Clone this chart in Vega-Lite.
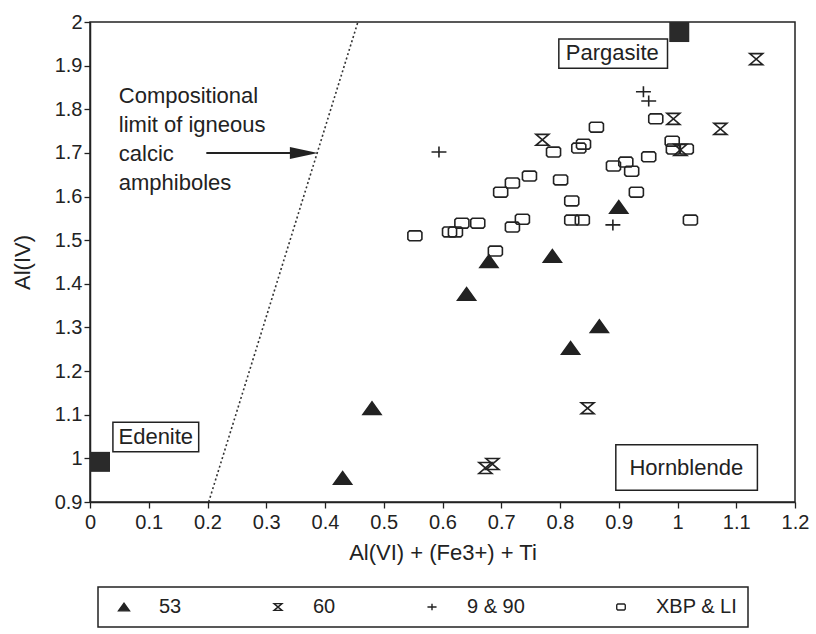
{
  "$schema": "https://vega.github.io/schema/vega-lite/v6.json",
  "autosize": "none",
  "width": 705,
  "height": 480,
  "padding": {"left": 90, "top": 22, "right": 21, "bottom": 132},
  "background": "white",
  "config": {
    "font": "Liberation Sans",
    "view": {"stroke": "#222", "strokeWidth": 1.5},
    "axis": {
      "grid": false,
      "domainColor": "#222",
      "domainWidth": 1.5,
      "tickColor": "#222",
      "tickWidth": 1.3,
      "tickSize": 6,
      "labelColor": "#222",
      "labelFontSize": 20,
      "labelFont": "Liberation Sans",
      "titleColor": "#222",
      "titleFontSize": 22,
      "titleFontWeight": "normal",
      "titleFont": "Liberation Sans",
      "labelFlush": false,
      "labelOverlap": false
    },
    "legend": {
      "orient": "none",
      "legendX": 8,
      "legendY": 565,
      "direction": "horizontal",
      "columns": 4,
      "gridAlign": "each",
      "columnPadding": 80,
      "padding": 10,
      "symbolOffset": 6,
      "strokeColor": "#222",
      "strokeWidth": 1.5,
      "labelFontSize": 20,
      "labelFont": "Liberation Sans",
      "labelColor": "#222",
      "labelOffset": 25,
      "symbolSize": 120,
      "symbolStrokeWidth": 1.4,
      "title": null
    }
  },
  "datasets": {
    "pts": [
      {"series": "53", "x": 0.430, "y": 0.955},
      {"series": "53", "x": 0.480, "y": 1.115},
      {"series": "53", "x": 0.641, "y": 1.377},
      {"series": "53", "x": 0.679, "y": 1.452},
      {"series": "53", "x": 0.787, "y": 1.464},
      {"series": "53", "x": 0.818, "y": 1.253},
      {"series": "53", "x": 0.867, "y": 1.303},
      {"series": "53", "x": 0.900, "y": 1.576},
      {"series": "60", "x": 0.673, "y": 0.978},
      {"series": "60", "x": 0.685, "y": 0.987},
      {"series": "60", "x": 0.847, "y": 1.115},
      {"series": "60", "x": 0.770, "y": 1.730},
      {"series": "60", "x": 0.993, "y": 1.778},
      {"series": "60", "x": 1.005, "y": 1.707},
      {"series": "60", "x": 1.073, "y": 1.755},
      {"series": "60", "x": 1.134, "y": 1.915},
      {"series": "9 & 90", "x": 0.594, "y": 1.702},
      {"series": "9 & 90", "x": 0.890, "y": 1.535},
      {"series": "9 & 90", "x": 0.942, "y": 1.840},
      {"series": "9 & 90", "x": 0.951, "y": 1.819},
      {"series": "XBP & LI", "x": 0.553, "y": 1.510},
      {"series": "XBP & LI", "x": 0.612, "y": 1.519},
      {"series": "XBP & LI", "x": 0.622, "y": 1.519},
      {"series": "XBP & LI", "x": 0.633, "y": 1.539},
      {"series": "XBP & LI", "x": 0.660, "y": 1.539},
      {"series": "XBP & LI", "x": 0.690, "y": 1.475},
      {"series": "XBP & LI", "x": 0.699, "y": 1.610},
      {"series": "XBP & LI", "x": 0.719, "y": 1.631},
      {"series": "XBP & LI", "x": 0.719, "y": 1.530},
      {"series": "XBP & LI", "x": 0.736, "y": 1.548},
      {"series": "XBP & LI", "x": 0.748, "y": 1.647},
      {"series": "XBP & LI", "x": 0.789, "y": 1.702},
      {"series": "XBP & LI", "x": 0.801, "y": 1.638},
      {"series": "XBP & LI", "x": 0.820, "y": 1.590},
      {"series": "XBP & LI", "x": 0.820, "y": 1.546},
      {"series": "XBP & LI", "x": 0.838, "y": 1.546},
      {"series": "XBP & LI", "x": 0.832, "y": 1.711},
      {"series": "XBP & LI", "x": 0.840, "y": 1.720},
      {"series": "XBP & LI", "x": 0.862, "y": 1.759},
      {"series": "XBP & LI", "x": 0.891, "y": 1.670},
      {"series": "XBP & LI", "x": 0.912, "y": 1.679},
      {"series": "XBP & LI", "x": 0.922, "y": 1.658},
      {"series": "XBP & LI", "x": 0.930, "y": 1.610},
      {"series": "XBP & LI", "x": 0.951, "y": 1.691},
      {"series": "XBP & LI", "x": 0.963, "y": 1.778},
      {"series": "XBP & LI", "x": 0.991, "y": 1.727},
      {"series": "XBP & LI", "x": 0.993, "y": 1.709},
      {"series": "XBP & LI", "x": 1.015, "y": 1.709},
      {"series": "XBP & LI", "x": 1.022, "y": 1.546}
    ],
    "endmembers": [
      {"name": "Pargasite", "x": 1.003, "y": 1.977},
      {"name": "Edenite", "x": 0.017, "y": 0.992}
    ],
    "boxes": [
      {"label": "Pargasite", "x1": 0.798, "x2": 0.983, "y1": 1.961, "y2": 1.894, "tx": 0.889, "ty": 1.929},
      {"label": "Edenite", "x1": 0.039, "x2": 0.185, "y1": 1.083, "y2": 1.015, "tx": 0.112, "ty": 1.049},
      {"label": "Hornblende", "x1": 0.895, "x2": 1.136, "y1": 1.031, "y2": 0.927, "tx": 1.015, "ty": 0.979}
    ],
    "limit": [
      {"x": 0.202, "y": 0.9},
      {"x": 0.456, "y": 2.0}
    ],
    "arrow": [
      {"x": 0.198, "x2": 0.37, "y": 1.70, "hx": 0.364}
    ],
    "note": [
      {"x": 0.049, "y": 1.853, "label": "Compositional\nlimit of igneous\ncalcic\namphiboles"}
    ]
  },
  "layer": [
    {
      "data": {"name": "limit"},
      "mark": {"type": "line", "color": "#333", "strokeWidth": 1.6, "strokeDash": [2, 2.5]},
      "encoding": {
        "x": {"field": "x", "type": "quantitative", "scale": {"domain": [0, 1.2], "nice": false, "zero": false},
          "axis": {
            "title": "Al(VI) + (Fe3+) + Ti",
            "values": [0, 0.05, 0.1, 0.15, 0.2, 0.25, 0.3, 0.35, 0.4, 0.45, 0.5, 0.55, 0.6, 0.65, 0.7, 0.75, 0.8, 0.85, 0.9, 0.95, 1, 1.05, 1.1, 1.15, 1.2],
            "labelExpr": "round(datum.value*100) % 10 == 0 ? format(datum.value, '.1~f') : ''",
            "labelPadding": 4,
            "titlePadding": 10
          }},
        "y": {"field": "y", "type": "quantitative", "scale": {"domain": [0.9, 2], "nice": false, "zero": false},
          "axis": {
            "title": "Al(IV)",
            "values": [0.9, 1, 1.1, 1.2, 1.3, 1.4, 1.5, 1.6, 1.7, 1.8, 1.9, 2],
            "labelExpr": "format(datum.value, '.1~f')",
            "labelPadding": 2,
            "titlePadding": 20
          }}
      }
    },
    {
      "data": {"name": "arrow"},
      "mark": {"type": "rule", "color": "#222", "strokeWidth": 2},
      "encoding": {
        "x": {"field": "x", "type": "quantitative"},
        "x2": {"field": "x2"},
        "y": {"field": "y", "type": "quantitative"}
      }
    },
    {
      "data": {"name": "arrow"},
      "mark": {"type": "point", "shape": "M-1,-0.43L1,0L-1,0.43Z", "size": 784, "filled": true, "color": "#222", "opacity": 1},
      "encoding": {
        "x": {"field": "hx", "type": "quantitative"},
        "y": {"field": "y", "type": "quantitative"}
      }
    },
    {
      "data": {"name": "note"},
      "mark": {"type": "text", "align": "left", "baseline": "top", "fontSize": 22, "lineHeight": 29, "lineBreak": "\n", "color": "#222", "font": "Liberation Sans"},
      "encoding": {
        "x": {"field": "x", "type": "quantitative"},
        "y": {"field": "y", "type": "quantitative"},
        "text": {"field": "label"}
      }
    },
    {
      "data": {"name": "boxes"},
      "mark": {"type": "rect", "fill": "white", "stroke": "#222", "strokeWidth": 1.5},
      "encoding": {
        "x": {"field": "x1", "type": "quantitative"},
        "x2": {"field": "x2"},
        "y": {"field": "y1", "type": "quantitative"},
        "y2": {"field": "y2"}
      }
    },
    {
      "data": {"name": "boxes"},
      "mark": {"type": "text", "align": "center", "baseline": "middle", "fontSize": 22, "color": "#222", "font": "Liberation Sans"},
      "encoding": {
        "x": {"field": "tx", "type": "quantitative"},
        "y": {"field": "ty", "type": "quantitative"},
        "text": {"field": "label"}
      }
    },
    {
      "data": {"name": "endmembers"},
      "mark": {"type": "point", "shape": "square", "size": 400, "filled": true, "color": "#2a2a2a", "opacity": 1},
      "encoding": {
        "x": {"field": "x", "type": "quantitative"},
        "y": {"field": "y", "type": "quantitative"}
      }
    },
    {
      "data": {"name": "pts"},
      "mark": {"type": "point", "size": 324, "strokeWidth": 1.6, "opacity": 1},
      "encoding": {
        "x": {"field": "x", "type": "quantitative"},
        "y": {"field": "y", "type": "quantitative"},
        "shape": {"field": "series", "type": "nominal",
          "scale": {"domain": ["53", "60", "9 & 90", "XBP & LI"],
            "range": [
              "M-1,0.7L1,0.7L0,-0.7Z",
              "M-0.72,-0.61L0.72,-0.61L-0.72,0.61L0.72,0.61Z",
              "M-0.83,0L0.83,0M0,-0.61L0,0.61",
              "M-0.6,-0.55L0.6,-0.55L0.78,-0.37L0.78,0.37L0.6,0.55L-0.6,0.55L-0.78,0.37L-0.78,-0.37Z"
            ]},
          "legend": {"title": null}},
        "fill": {"field": "series", "type": "nominal",
          "scale": {"domain": ["53", "60", "9 & 90", "XBP & LI"], "range": ["#222", "transparent", "transparent", "transparent"]},
          "legend": {"title": null}},
        "stroke": {"field": "series", "type": "nominal",
          "scale": {"domain": ["53", "60", "9 & 90", "XBP & LI"], "range": ["#222", "#222", "#222", "#222"]},
          "legend": {"title": null}}
      }
    }
  ]
}
